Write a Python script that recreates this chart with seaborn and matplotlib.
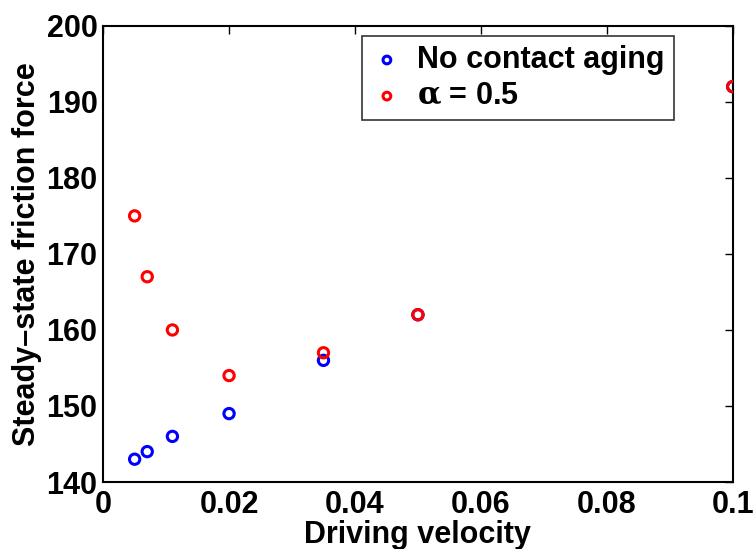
import matplotlib
matplotlib.use("Agg")
import matplotlib.pyplot as plt
import seaborn as sns
import pandas as pd

velocity = [0.005, 0.007, 0.011, 0.02, 0.035, 0.05, 0.1]
force_no_aging = [143, 144, 146, 149, 156, 162, 192]
force_alpha = [175, 167, 160, 154, 157, 162, 192]
series_names = ["No contact aging", r"$\mathrm{\alpha}$ = 0.5"]
series_colors = ["#0000ff", "#ff0000"]
x_ticks = [0, 0.02, 0.04, 0.06, 0.08, 0.1]
x_tick_labels = ["0", "0.02", "0.04", "0.06", "0.08", "0.1"]
y_ticks = [140, 150, 160, 170, 180, 190, 200]

df = pd.DataFrame({
    "velocity": velocity * 2,
    "force": force_no_aging + force_alpha,
    "series": [series_names[0]] * len(velocity) + [series_names[1]] * len(velocity),
})

sns.set_style("white")
plt.rcParams["font.family"] = ["Liberation Sans", "DejaVu Sans"]
plt.rcParams["font.weight"] = "bold"
plt.rcParams["mathtext.fontset"] = "dejavuserif"
plt.rcParams["text.color"] = "black"
plt.rcParams["axes.labelcolor"] = "black"
plt.rcParams["xtick.color"] = "black"
plt.rcParams["ytick.color"] = "black"

FS = 22

fig = plt.figure(figsize=(7.53, 5.49), dpi=100)
ax = fig.add_axes([0.137, 0.122, 0.836, 0.831])

for name, color in zip(series_names, series_colors):
    sub = df[df["series"] == name]
    sns.scatterplot(data=sub, x="velocity", y="force", ax=ax, label=name,
                    marker="o", s=55, facecolor="none", edgecolor=color,
                    linewidth=2.2, zorder=3)

ax.set_xlim(0, 0.1)
ax.set_ylim(140, 200)
ax.set_xticks(x_ticks)
ax.set_xticklabels(x_tick_labels)
ax.set_yticks(y_ticks)
ax.tick_params(direction="in", length=6, width=1, top=True, right=True,
               labelsize=FS)
ax.tick_params(axis="x", pad=6)
ax.tick_params(axis="y", pad=4)
for lab in ax.get_xticklabels() + ax.get_yticklabels():
    lab.set_fontweight("bold")
for sp in ax.spines.values():
    sp.set_linewidth(1.5)
    sp.set_color("black")

ax.set_xlabel("Driving velocity", fontsize=FS, fontweight="bold", labelpad=0)
ax.set_ylabel("Steady\u2013state friction force", fontsize=FS, fontweight="bold", labelpad=3)

leg = ax.legend(loc="upper right", bbox_to_anchor=(0.907, 0.978), fontsize=FS,
                frameon=True, fancybox=False, edgecolor="black",
                handletextpad=0.5, borderpad=0.3, labelspacing=0.2,
                markerscale=0.75, handlelength=1.0, borderaxespad=0)
leg.get_frame().set_linewidth(1.2)
for t in leg.get_texts():
    t.set_fontweight("bold")

fig.savefig("out.png", dpi=100, facecolor="white")
